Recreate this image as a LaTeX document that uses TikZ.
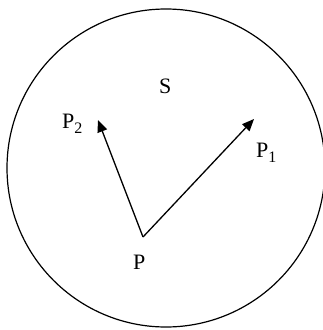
\documentclass[tikz,border=0pt]{standalone}
\usepackage{fontspec}
\setmainfont{Liberation Serif}
\usetikzlibrary{arrows.meta}
\newcommand{\mysub}[1]{\raisebox{-5pt}{\fontsize{16}{16}\selectfont #1}}
\begin{document}
\begin{tikzpicture}[x=1pt,y=-1pt,
  lbl/.style={inner sep=0pt,anchor=base west,font=\fontsize{22}{22}\selectfont},
  vec/.style={line width=1.3pt,-{Triangle[length=12pt,width=10pt]}}]
\useasboundingbox (0,0) rectangle (322,330);
\node[draw,circle,line width=1.2pt,minimum size=318pt,inner sep=0pt] (S) at (166,168) {};
\coordinate (P) at (143,237);
\coordinate (P1) at (254,119);
\coordinate (P2) at (98,120);
\draw[vec] (P) -- (P1);
\draw[vec] (P) -- (P2);
\node[lbl] (lS) at (159,93) {S};
\node[lbl] (lP) at (133,269) {P};
\node[lbl] (lP1) at (256,157) {P\mysub{1}};
\node[lbl] (lP2) at (62,128) {P\mysub{2}};
\end{tikzpicture}
\end{document}
